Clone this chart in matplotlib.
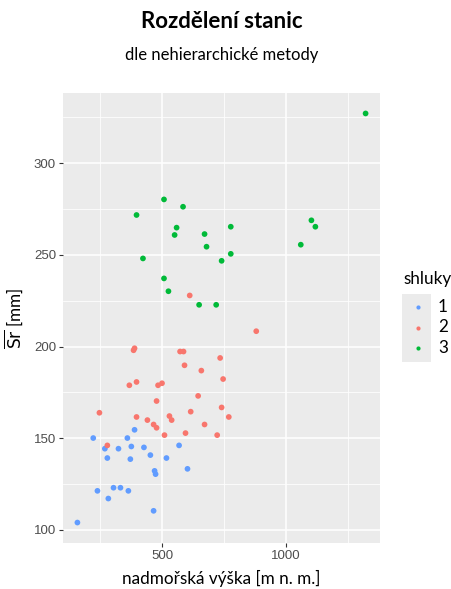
import matplotlib
matplotlib.use("Agg")
import matplotlib.pyplot as plt
from matplotlib.patches import Rectangle

# cluster 1 (blue)
x1 = [389, 222, 360, 269, 324, 376, 427, 569, 453, 279, 372, 518, 470, 474, 603,
      239, 304, 332, 364, 283, 466, 158]
y1 = [154.6, 150.1, 150.1, 144.3, 144.3, 145.5, 145.0, 146.1, 140.8, 139.2, 138.6, 139.2,
      132.2, 130.4, 133.3, 121.3, 123.0, 123.0, 121.3, 117.1, 110.4, 104.0]
# cluster 2 (red)
x2 = [612, 881, 389, 385, 573, 587, 735, 591, 659, 747, 397, 368, 484, 500, 646, 478,
      741, 247, 616, 397, 530, 539, 770, 441, 466, 478, 672, 510, 595, 723, 279]
y2 = [227.9, 208.4, 199.1, 198.0, 197.3, 197.3, 193.8, 189.8, 186.9, 182.3, 180.7, 178.9,
      178.9, 180.0, 173.1, 170.3, 166.8, 163.9, 164.5, 161.6, 162.1, 159.9, 161.6, 159.9,
      157.5, 155.7, 157.5, 151.7, 152.8, 151.7, 146.1]
# cluster 3 (green)
x3 = [1323, 508, 585, 397, 559, 551, 778, 672, 680, 1104, 1120, 1061, 423, 778, 741, 508,
      526, 650, 719]
y3 = [327.2, 280.3, 276.3, 271.8, 264.9, 260.9, 265.4, 261.4, 254.5, 268.9, 265.4, 255.6,
      248.1, 250.6, 246.8, 237.2, 230.2, 222.8, 222.8]

clusters = ["1", "2", "3"]
colors = ["#619CFF", "#F8766D", "#00BA38"]
xticks = [500, 1000]
yticks = [100, 150, 200, 250, 300]

W, H = 451, 589
fig = plt.figure(figsize=(W / 100, H / 100), dpi=100)
ax = fig.add_axes([63 / W, 1 - 543 / H, (380 - 63) / W, (543 - 93) / H])
ax.set_facecolor("#EBEBEB")
for s in ax.spines.values():
    s.set_visible(False)

for xs, ys, c in zip([x1, x2, x3], [y1, y2, y3], colors):
    ax.scatter(xs, ys, s=17, color=c, edgecolors="none", zorder=3)

allx = x1 + x2 + x3
ally = y1 + y2 + y3
dx = (max(allx) - min(allx)) * 0.05
dy = (max(ally) - min(ally)) * 0.05
ax.set_xlim(min(allx) - dx, max(allx) + dx)
ax.set_ylim(min(ally) - dy, max(ally) + dy)

ax.set_xticks(xticks)
ax.set_yticks(yticks)
ax.set_xticks([250, 750, 1250], minor=True)
ax.set_yticks([125, 175, 225, 275, 325], minor=True)
ax.grid(True, which="major", color="white", linewidth=1.1, zorder=0)
ax.grid(True, which="minor", color="white", linewidth=0.55, zorder=0)
ax.set_axisbelow(True)
ax.tick_params(which="major", length=3, width=0.8, color="#333333",
               labelcolor="#4D4D4D", labelsize=9.5, pad=2)
ax.tick_params(which="minor", length=0)
for lab in ax.get_xticklabels() + ax.get_yticklabels():
    lab.set_family("Liberation Sans")

ax.set_xlabel("nadmořská výška [m n. m.]", family="Lato", fontsize=12.3, color="black", labelpad=6)
ax.set_ylabel(r"$\overline{\mathrm{Sr}}$ [mm]", family="Lato", fontsize=12.3, color="black", labelpad=6)

fig.text(221.5 / W, 1 - 22 / H, "Rozdělení stanic", ha="center", va="center",
         family="Lato", fontsize=16, fontweight="bold")
fig.text(221.5 / W, 1 - 55 / H, "dle nehierarchické metody", ha="center", va="center",
         family="Lato", fontsize=12)

# legend
fig.text(403 / W, 1 - 279 / H, "shluky", ha="left", va="center", family="Lato", fontsize=12.3)
fig.patches.append(Rectangle((402 / W, 1 - 362 / H), 29 / W, 68 / H,
                             transform=fig.transFigure, facecolor="#EBEBEB",
                             edgecolor="none"))
for i, (lab, c) in enumerate(zip(clusters, colors)):
    yy = 1 - (307 + i * 20.5) / H
    fig.lines.append(matplotlib.lines.Line2D([417.5 / W], [yy], marker="o", markersize=3,
                                             color=c, markeredgewidth=0,
                                             transform=fig.transFigure))
    fig.text(438 / W, yy, lab, ha="left", va="center", family="Lato", fontsize=12.3)

fig.savefig("out.png", dpi=100)
